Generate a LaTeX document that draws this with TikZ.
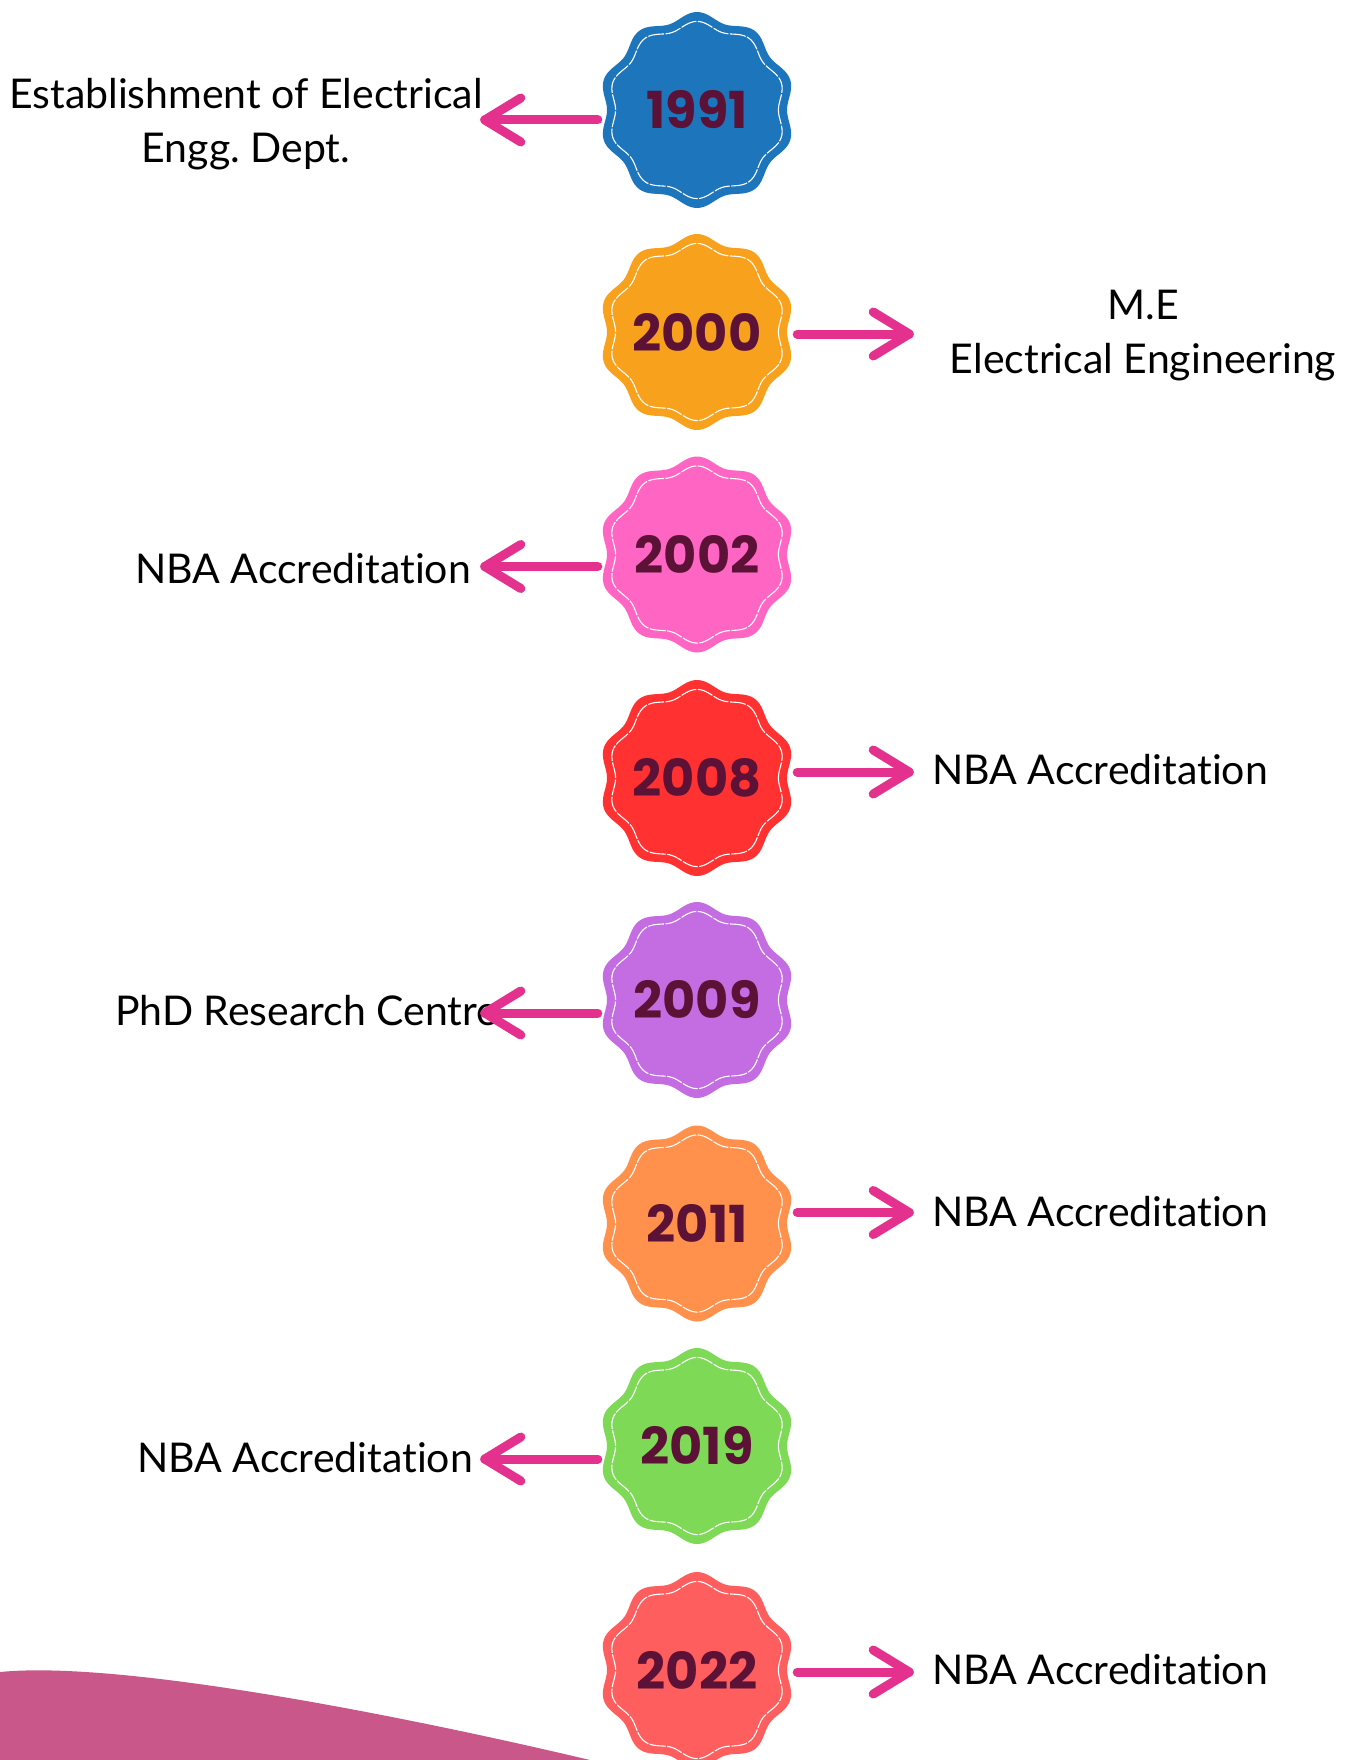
\documentclass[tikz,border=0pt]{standalone}
\usepackage{fontspec}
\setmainfont{Lato}[Ligatures={NoCommon,NoContextual,NoRare}]
\newfontfamily\yearfont{Poppins}
\definecolor{c1}{HTML}{1D75BB}
\definecolor{c2}{HTML}{F8A11D}
\definecolor{c3}{HTML}{FF66C4}
\definecolor{c4}{HTML}{FF3131}
\definecolor{c5}{HTML}{C46CE2}
\definecolor{c6}{HTML}{FF914D}
\definecolor{c7}{HTML}{7ED957}
\definecolor{c8}{HTML}{FF5E5E}
\definecolor{yeartxt}{HTML}{5C1236}
\definecolor{arrcol}{HTML}{E4318D}
\definecolor{wave}{HTML}{C95789}
\frenchspacing
\begin{document}
\begin{tikzpicture}[x=1pt,y=-1pt,
  yr/.style={circle, minimum size=190pt, inner sep=0pt,
    font=\yearfont\bfseries\fontsize{51}{51}\selectfont, text=yeartxt},
  lbl/.style={font=\fontsize{41}{54}\selectfont, text=black, inner sep=0pt},
  arr/.style={draw=arrcol, line width=9pt, line cap=round, line join=round},
  rim/.style={draw=white, line width=1.1pt, dash pattern=on 16pt off 1.5pt}]
\useasboundingbox (0,0) rectangle (1347,1760);
\fill[white] (0,0) rectangle (1347,1760);
% decorative wave at bottom left
\fill[wave] (0,1672) .. controls (120,1660) and (400,1715) .. (590,1760) -- (0,1760) -- cycle;
% badges
\foreach \nm/\yy/\col/\yr in {b1/110/c1/1991, b2/332/c2/2000, b3/554.5/c3/2002, b4/778/c4/2008, b5/1000/c5/2009, b6/1223.5/c6/2011, b7/1446/c7/2019, b8/1670/c8/2022}{
  \fill[\col] plot[variable=\t, domain=0:360, samples=181, smooth]
     ({697+(94-4*cos(10*\t))*cos(\t)}, {\yy-(94-4*cos(10*\t))*sin(\t)}) -- cycle;
  \draw[rim] plot[variable=\t, domain=0:360, samples=181, smooth]
     ({697+(85-3.6*cos(10*\t))*cos(\t)}, {\yy-(85-3.6*cos(10*\t))*sin(\t)}) -- cycle;
  \node[yr] (\nm) at (697,\yy) {\yr};
}
% labels
\node[lbl, align=center] (t1) at (246,124) {Establishment of Electrical\\Engg. Dept.};
\node[lbl, align=center] (t2) at (1143,336) {M.E\\Electrical Engineering};
\node[lbl, anchor=base west] (t3) at (135,583) {NBA Accreditation};
\node[lbl, anchor=base west] (t4) at (932,784) {NBA Accreditation};
\node[lbl, anchor=base west] (t5) at (115,1025) {PhD Research Centre};
\node[lbl, anchor=base west] (t6) at (932,1226) {NBA Accreditation};
\node[lbl, anchor=base west] (t7) at (137,1472) {NBA Accreditation};
\node[lbl, anchor=base west] (t8) at (932,1684) {NBA Accreditation};
% left arrows
\foreach \nm/\dy in {b1/10, b3/12, b5/13, b7/13}{
  \draw[arr] ([shift={(-4,\dy)}]\nm.west) -- ([shift={(-117,\dy)}]\nm.west) coordinate (tip\nm);
  \draw[arr] ([shift={(36,-22)}]tip\nm) -- (tip\nm) -- ([shift={(36,22)}]tip\nm);
}
% right arrows
\foreach \nm/\dy in {b2/2, b4/-6, b6/-11, b8/2}{
  \draw[arr] ([shift={(5,\dy)}]\nm.east) -- ([shift={(117,\dy)}]\nm.east) coordinate (tip\nm);
  \draw[arr] ([shift={(-36,-22)}]tip\nm) -- (tip\nm) -- ([shift={(-36,22)}]tip\nm);
}
\end{tikzpicture}
\end{document}
